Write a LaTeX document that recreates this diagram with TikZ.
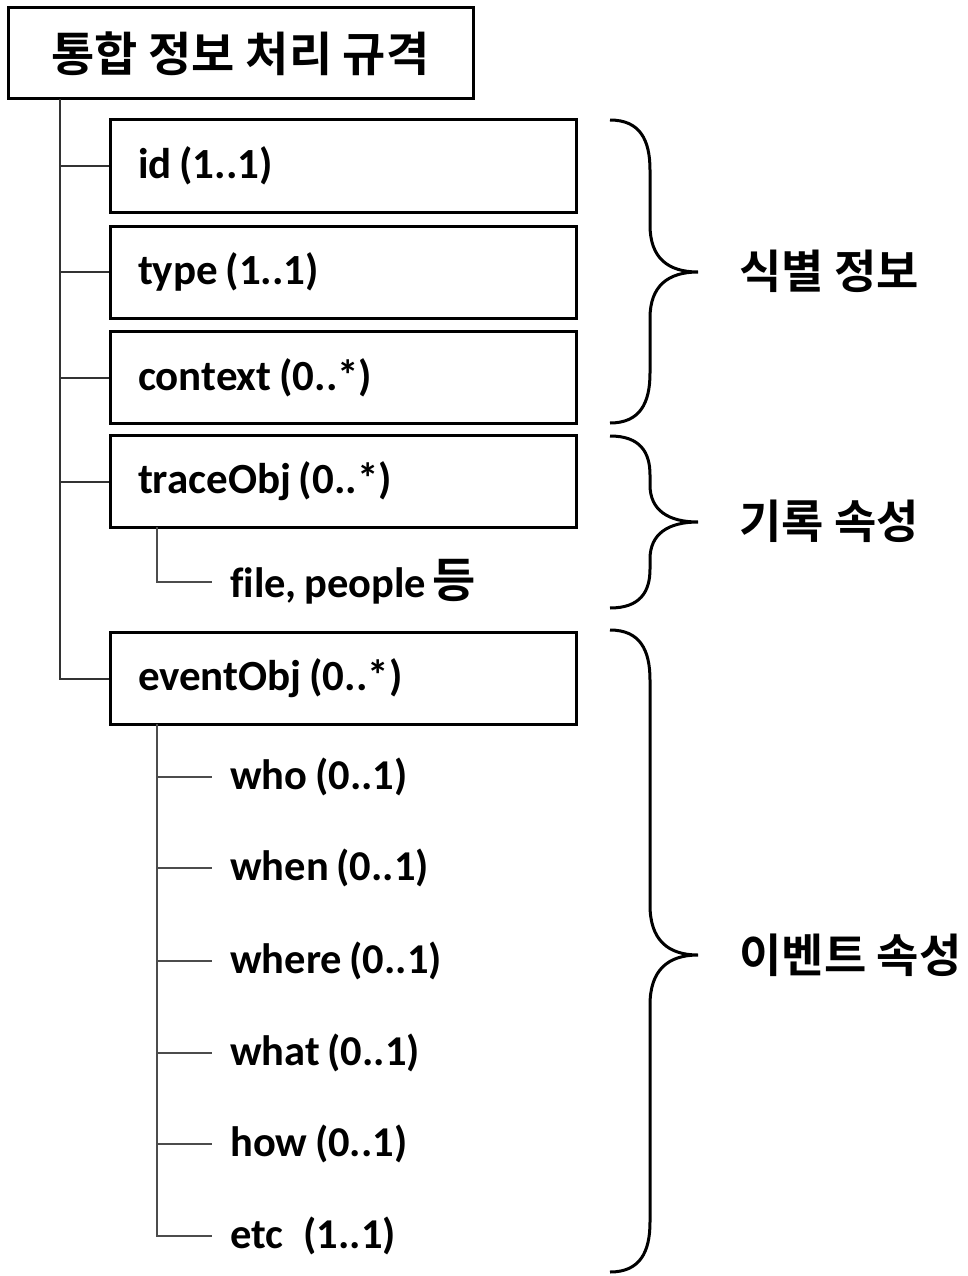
\documentclass[tikz,border=0pt]{standalone}
\usepackage{fontspec}
\setmainfont{Carlito}[Ligatures=NoCommon,WordSpace=0.8]
\newfontfamily\kr{Noto Sans CJK KR}[BoldFont={Noto Sans CJK KR Bold}]
\newcommand{\boxtxt}[1]{\makebox[410pt][l]{#1}}
\begin{document}
\begin{tikzpicture}[x=1pt,y=-1pt,
  box/.style={draw=black,line width=3pt,minimum height=92pt,inner xsep=28pt,
    font=\fontsize{43}{50}\selectfont\bfseries},
  titlebox/.style={draw=black,line width=3pt,minimum width=465pt,minimum height=91pt,
    font=\kr\fontsize{47}{54}\selectfont\bfseries},
  sub/.style={anchor=west,inner xsep=18pt,inner ysep=0pt,font=\fontsize{42.5}{50}\selectfont\bfseries},
  trunk/.style={draw=black!80,line width=2pt},
  branch/.style={draw=black!70,line width=2pt},
  brace/.style={draw=black,line width=3pt},
  lab/.style={anchor=west,font=\kr\fontsize{46}{54}\selectfont\bfseries}]
\useasboundingbox (0,0) rectangle (967,1276);
\node[titlebox] (title) at (240.5,53.5) {통합 정보 처리 규격};
\node[box] (id) at (343,166) {\boxtxt{id (1..1)}};
\node[box] (ty) at (343,272) {\boxtxt{type (1..1)}};
\node[box] (ctx) at (343,377.5) {\boxtxt{context (0..*)}};
\node[box] (tr) at (343,481.5) {\boxtxt{traceObj (0..*)}};
\node[box] (ev) at (343,678.5) {\boxtxt{eventObj (0..*)}};
\coordinate (t0) at (60,99);
\draw[trunk] (t0) |- (ev.west);
\foreach \n in {id,ty,ctx,tr} \draw[trunk] (t0 |- \n.west) -- (\n.west);
\node[sub] (fp) at (212,582) {file, people\hspace{0.15em}{\kr\fontsize{47}{54}\selectfont 등}};
\coordinate (tr0) at (157,527);
\draw[branch] (tr0) |- (fp.west);
\node[sub] (who) at (212,777) {who (0..1)};
\node[sub] (when) at (212,868) {when (0..1)};
\node[sub] (where) at (212,961) {where (0..1)};
\node[sub] (what) at (212,1053) {what (0..1)};
\node[sub] (how) at (212,1144) {how (0..1)};
\node[sub] (etc) at (212,1236) {etc\hspace{0.3em} (1..1)};
\coordinate (e0) at (157,724);
\draw[branch] (e0) |- (etc.west);
\foreach \n in {who,when,where,what,how} \draw[branch] (e0 |- \n.west) -- (\n.west);
% braces
\draw[brace] (610,120) .. controls (640,120) and (650,140) .. (650,170) -- (650,225)
  .. controls (650,258) and (668,272) .. (698,272)
  .. controls (668,272) and (650,286) .. (650,318) -- (650,373)
  .. controls (650,403) and (640,423) .. (610,423);
\node[lab] (l1) at (736,271) {식별 정보};
\draw[brace] (610,436) .. controls (640,436) and (650,452) .. (650,475) -- (650,485)
  .. controls (650,510) and (668,522) .. (698,522)
  .. controls (668,522) and (650,534) .. (650,559) -- (650,569)
  .. controls (650,592) and (640,608) .. (610,608);
\node[lab] (l2) at (736,521) {기록 속성};
\draw[brace] (610,630) .. controls (640,630) and (650,650) .. (650,680) -- (650,905)
  .. controls (650,940) and (668,955) .. (698,955)
  .. controls (668,955) and (650,970) .. (650,1005) -- (650,1222)
  .. controls (650,1252) and (640,1272) .. (610,1272);
\node[lab] (l3) at (736,955) {이벤트 속성};
\end{tikzpicture}
\end{document}
